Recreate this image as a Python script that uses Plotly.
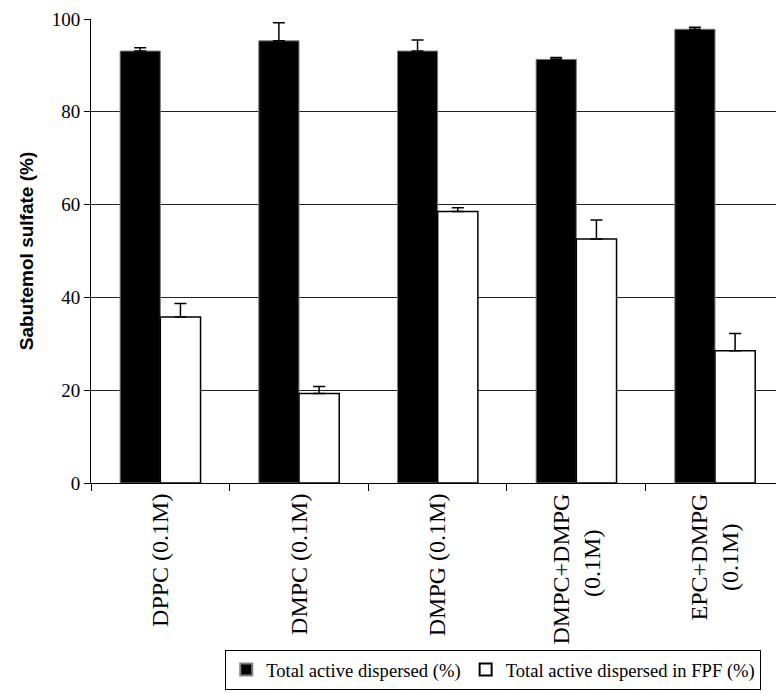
import plotly.graph_objects as go

categories = ["DPPC (0.1M)", "DMPC (0.1M)", "DMPG (0.1M)",
              "DMPC+DMPG<br>(0.1M)\u00a0\u00a0\u00a0\u00a0\u00a0\u00a0",
              "EPC+DMPG<br>(0.1M)\u00a0\u00a0\u00a0\u00a0\u00a0"]
total_dispersed = [93.1, 95.3, 93.1, 91.3, 97.8]
total_dispersed_err = [0.7, 3.9, 2.4, 0.4, 0.4]
fpf_dispersed = [35.8, 19.3, 58.5, 52.6, 28.5]
fpf_dispersed_err = [2.9, 1.5, 0.8, 4.1, 3.7]
y_ticks = [0, 20, 40, 60, 80, 100]

serif = "Liberation Serif, Times New Roman, serif"
sans = "Liberation Sans, Arial, sans-serif"

fig = go.Figure()
fig.add_trace(go.Bar(
    x=categories, y=total_dispersed, name="Total active dispersed (%)",
    marker=dict(color="black", line=dict(color="#808080", width=1)),
    error_y=dict(type="data", array=total_dispersed_err, arrayminus=[0]*5,
                 symmetric=False, color="black", thickness=1.5, width=6),
))
fig.add_trace(go.Bar(
    x=categories, y=fpf_dispersed, name="Total active dispersed in FPF (%)",
    marker=dict(color="white", line=dict(color="black", width=1.5)),
    error_y=dict(type="data", array=fpf_dispersed_err, arrayminus=[0]*5,
                 symmetric=False, color="black", thickness=1.5, width=6),
))

fig.update_layout(
    width=776, height=693,
    margin=dict(l=91, r=0, t=19, b=210, autoexpand=False),
    plot_bgcolor="white", paper_bgcolor="white",
    barmode="group", bargap=0.42, bargroupgap=0,
    font=dict(family=serif, color="black", size=18),
    legend=dict(orientation="h", x=0.196, y=-0.446, xanchor="left", yanchor="bottom",
                bordercolor="black", borderwidth=1, itemwidth=30,
                font=dict(family=serif, size=18.6, color="black"),
                traceorder="normal", itemsizing="constant"),
    showlegend=True,
)
fig.update_xaxes(
    type="category", range=[-0.5, 4.44], automargin=False,
    showline=True, linecolor="black", linewidth=1,
    ticks="outside", tickson="boundaries", ticklen=7, tickcolor="black",
    tickangle=-90, tickfont=dict(family=serif, size=24, color="black"),
    showgrid=False,
)
fig.update_yaxes(
    range=[0, 100], tickvals=y_ticks, automargin=False,
    showline=True, linecolor="black", linewidth=1,
    ticks="outside", ticklen=6, tickcolor="black",
    tickfont=dict(family=serif, size=19, color="black"),
    showgrid=True, gridcolor="#222222", gridwidth=1,
    zeroline=False,
    title=dict(text="<b>Sabutemol sulfate (%)</b>",
               font=dict(family=sans, size=19, color="black"), standoff=13),
)

fig.write_html("out.html", config={"displayModeBar": False},
               post_script="document.body.style.margin='0';document.body.style.overflow='hidden';")
